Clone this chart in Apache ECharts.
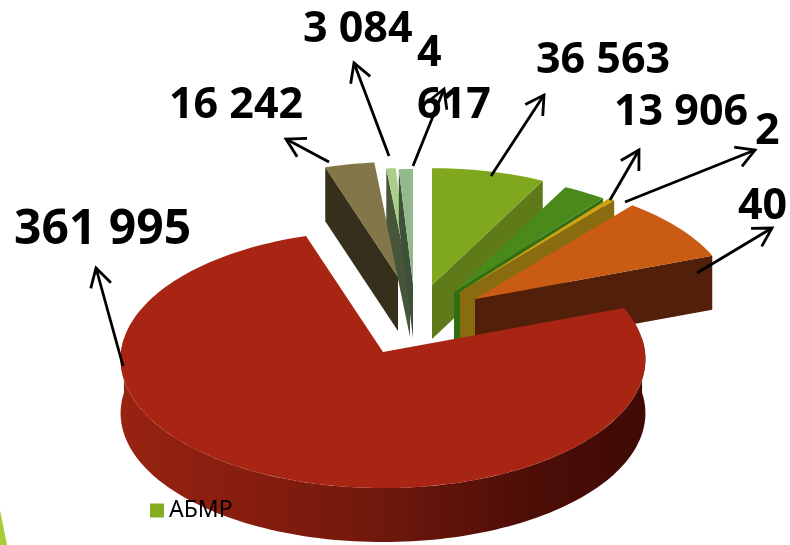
<!DOCTYPE html>
<html><head><meta charset="utf-8">
<style>html,body{margin:0;padding:0;background:#fff}#c{width:790px;height:545px}</style>
<script src="https://cdn.jsdelivr.net/npm/echarts@6/dist/echarts.min.js"></script>
</head><body><div id="c"></div>
<script>
// ---- data (clockwise from 12 o'clock) ----
const values = [36563, 13906, 2000, 40000, 361995, 16242, 3084, 4617];
const labels = ['36 563','13 906','2','40','361 995','16 242','3 084','4\n617'];
const legendNames = ['АБМР'];

// ---- styling / layout, separate from data ----
const topColors  = ['#80a81f','#4a8a1a','#d2a015','#c95b12','#a92513','#837649','#a9d08a','#92b98b'];
const wallColors = ['#5f7a18','#2f6e12','#8a6c10','#52200a','#8a1f10','#362f1b','#47563a','#3f5039'];
const apexX = [432,454,460,475,383,398,410,413];
const apexY = [285,292,292,299,352,277,283,284];
const scale = [.96,.965,.965,.985,1,.945,.945,.945];
const drawOrder = [5,6,7,0,1,2,3,4];
const labelX = [536,614,755,738,14,169,303,417];
const labelY = [61,113,132,207,230,106,30,80];
const labelSize = [43,43,43,43,48,43,43,43];
const arrowFrom = [[491,176],[610,200],[625,202],[697,273],[123,366],[329,162],[389,156],[413,166]];
const arrowTo   = [[544,95],[639,150],[755,150],[772,228],[96,268],[286,139],[354,63],[444,89]];

const RX = 262, RY = 128.5, PERSP = .0555, DEPTH = 54;
const total = values.reduce((a,b)=>a+b,0);
const startA = [], endA = [];
values.reduce((acc,v,i)=>{ startA[i]=acc; endA[i]=acc+v/total*360; return endA[i]; },0);

function project(i, deg){
  const t = deg*Math.PI/180, u = Math.sin(t), v = -Math.cos(t), w = 1-PERSP*v;
  return [apexX[i]+RX*scale[i]*u/w, apexY[i]+RY*scale[i]*v/w];
}
function arc(i,a,b){
  const n = Math.max(2,Math.ceil((b-a)/1.5)), pts=[];
  for(let k=0;k<=n;k++) pts.push(project(i,a+(b-a)*k/n));
  return pts;
}
const down = p => [p[0],p[1]+DEPTH];

function renderPie(params, api){
  const i = api.value(0), a = api.value(1), b = api.value(2);
  const kids = [], apex = [apexX[i],apexY[i]];
  const poly = (points, fill) => kids.push({type:'polygon',shape:{points},style:{fill}});
  if(a>180){ const o=project(i,a); poly([o,apex,down(apex),down(o)],wallColors[i]); }
  if(b<180){ const o=project(i,b); poly([o,apex,down(apex),down(o)],wallColors[i]); }
  const fa=Math.max(a,84), fb=Math.min(b,276);
  if(fb>fa){
    const pts=arc(i,fa,fb);
    poly(pts.concat(pts.map(down).reverse()), new echarts.graphic.LinearGradient(1,0,0,0,[
      {offset:0,color:'#3f0a05'},{offset:.22,color:'#4d0d07'},{offset:.5,color:'#6f180c'},
      {offset:.75,color:'#861d0f'},{offset:1,color:'#982312'}]));
  }
  poly([apex].concat(arc(i,a,b)), topColors[i]);
  return {type:'group',children:kids};
}
function renderNote(params, api){
  const i = api.value(0), f = arrowFrom[i], t = arrowTo[i];
  const ang = Math.atan2(f[1]-t[1],f[0]-t[0]), L=21, S=.52;
  const barb = s => [t[0]+L*Math.cos(ang+s),t[1]+L*Math.sin(ang+s)];
  const ln = {stroke:'#000',lineWidth:2.8,fill:null};
  return {type:'group',children:[
    {type:'text',z2:1,style:{text:labels[i],x:labelX[i],y:labelY[i],fill:'#000',
      font:'bold '+labelSize[i]+'px "Open Sans"',lineHeight:52,align:'left',verticalAlign:'middle'}},
    {type:'polyline',z2:2,shape:{points:[f,t]},style:ln},
    {type:'polyline',z2:2,shape:{points:[barb(S),t,barb(-S)]},style:ln}
  ]};
}
const pieRows = drawOrder.map(i=>[i,startA[i],endA[i],values[i]]);
const noteRows = values.map((v,i)=>[i,v]);
const chart = echarts.init(document.getElementById('c'),null,{renderer:'canvas'});
chart.setOption({
  animation:false,
  backgroundColor:'#fff',
  legend:{data:legendNames,left:150,top:499,icon:'rect',itemWidth:14,itemHeight:14,itemGap:5,
    textStyle:{fontFamily:'Noto Sans',fontSize:23,color:'#000'},padding:0},
  graphic:[{type:'polygon',shape:{points:[[0,510],[7,545],[0,545]]},style:{fill:'#a9cd3a'},silent:true}],
  series:[
    {name:legendNames[0],type:'custom',coordinateSystem:'none',renderItem:renderPie,data:pieRows,
     itemStyle:{color:'#85ad20'},silent:true,z:2,clip:false},
    {name:'notes',type:'custom',coordinateSystem:'none',renderItem:renderNote,data:noteRows,silent:true,z:3,clip:false}
  ]
});
</script></body></html>
